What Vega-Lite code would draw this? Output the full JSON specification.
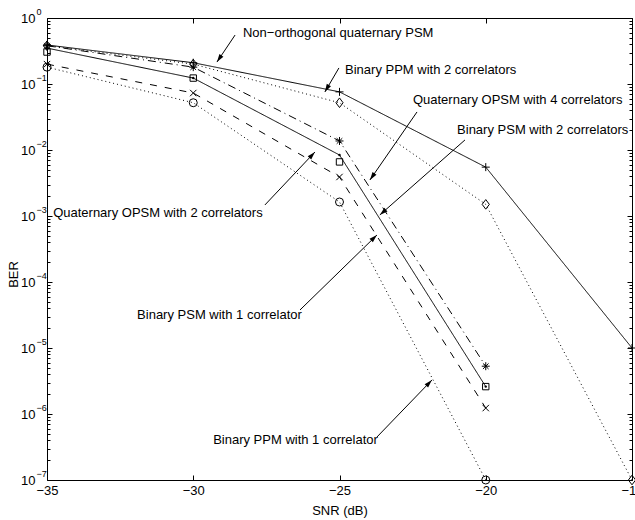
{
  "$schema": "https://vega.github.io/schema/vega-lite/v6.json",
  "width": 585,
  "height": 462,
  "autosize": {"type": "none"},
  "padding": {"left": 47, "top": 18, "right": 3, "bottom": 40},
  "background": "white",
  "config": {
    "view": {"stroke": "black", "strokeWidth": 1},
    "font": "Liberation Sans",
    "axis": {
      "labelFont": "Liberation Sans", "titleFont": "Liberation Sans",
      "labelFontSize": 13, "titleFontSize": 13,
      "labelColor": "black", "titleColor": "black", "tickColor": "black",
      "tickWidth": 1, "domain": false, "grid": false,
      "titleFontWeight": "normal", "labelFlush": false, "labelOverlap": false, "labelBound": false
    },
    "text": {"font": "Liberation Sans", "fontSize": 13}
  },
  "datasets": {
    "curves": [
      {"series": "Non-orthogonal quaternary PSM", "snr": -35, "ber": 0.39},
      {"series": "Non-orthogonal quaternary PSM", "snr": -30, "ber": 0.21},
      {"series": "Non-orthogonal quaternary PSM", "snr": -25, "ber": 0.076},
      {"series": "Non-orthogonal quaternary PSM", "snr": -20, "ber": 0.0055},
      {"series": "Non-orthogonal quaternary PSM", "snr": -15, "ber": 0.00001},
      {"series": "Binary PPM with 2 correlators", "snr": -35, "ber": 0.38},
      {"series": "Binary PPM with 2 correlators", "snr": -30, "ber": 0.2},
      {"series": "Binary PPM with 2 correlators", "snr": -25, "ber": 0.052},
      {"series": "Binary PPM with 2 correlators", "snr": -20, "ber": 0.0015},
      {"series": "Binary PPM with 2 correlators", "snr": -15, "ber": 1e-7},
      {"series": "Quaternary OPSM with 4 correlators", "snr": -35, "ber": 0.38},
      {"series": "Quaternary OPSM with 4 correlators", "snr": -30, "ber": 0.18},
      {"series": "Quaternary OPSM with 4 correlators", "snr": -25, "ber": 0.0137},
      {"series": "Quaternary OPSM with 4 correlators", "snr": -20, "ber": 5.3e-6},
      {"series": "Binary PSM with 2 correlators", "snr": -35, "ber": 0.35},
      {"series": "Binary PSM with 2 correlators", "snr": -30, "ber": 0.123},
      {"series": "Binary PSM with 2 correlators", "snr": -25, "ber": 0.0084},
      {"series": "Binary PSM with 2 correlators", "snr": -20, "ber": 2.6e-6},
      {"series": "Quaternary OPSM with 2 correlators", "snr": -35, "ber": 0.305},
      {"series": "Quaternary OPSM with 2 correlators", "snr": -30, "ber": 0.123},
      {"series": "Quaternary OPSM with 2 correlators", "snr": -25, "ber": 0.0066},
      {"series": "Quaternary OPSM with 2 correlators", "snr": -20, "ber": 2.6e-6},
      {"series": "Binary PSM with 1 correlator", "snr": -35, "ber": 0.2},
      {"series": "Binary PSM with 1 correlator", "snr": -30, "ber": 0.073},
      {"series": "Binary PSM with 1 correlator", "snr": -25, "ber": 0.0039},
      {"series": "Binary PSM with 1 correlator", "snr": -20, "ber": 1.23e-6},
      {"series": "Binary PPM with 1 correlator", "snr": -35, "ber": 0.18},
      {"series": "Binary PPM with 1 correlator", "snr": -30, "ber": 0.052},
      {"series": "Binary PPM with 1 correlator", "snr": -25, "ber": 0.00163},
      {"series": "Binary PPM with 1 correlator", "snr": -20, "ber": 1e-7}
    ],
    "notes": [
      {"label": "Non−orthogonal quaternary PSM", "tx": -28.3, "ty": 0.593, "ax": -28.57, "ay": 0.552, "hx": -29.19, "hy": 0.215, "angle": 214},
      {"label": "Binary PPM with 2 correlators", "tx": -24.81, "ty": 0.163, "ax": -25.02, "ay": 0.175, "hx": -25.5, "hy": 0.0757, "angle": 210},
      {"label": "Quaternary OPSM with 4 correlators", "tx": -22.49, "ty": 0.0572, "ax": -22.35, "ay": 0.0377, "hx": -23.96, "hy": 0.00351, "angle": 215},
      {"label": "Binary PSM with 2 correlators", "tx": -20.98, "ty": 0.0201, "ax": -20.71, "ay": 0.0142, "hx": -23.62, "hy": 0.00104, "angle": 229},
      {"label": "Quaternary OPSM with 2 correlators", "tx": -34.79, "ty": 0.00111, "ax": -27.55, "ay": 0.00147, "hx": -25.84, "hy": 0.00933, "angle": 43},
      {"label": "Binary PSM with 1 correlator", "tx": -31.92, "ty": 0.0000316, "ax": -26.35, "ay": 0.0000377, "hx": -23.72, "hy": 0.000515, "angle": 46},
      {"label": "Binary PPM with 1 correlator", "tx": -29.32, "ty": 4.04e-7, "ax": -23.72, "ay": 4.48e-7, "hx": -21.84, "hy": 3.27e-6, "angle": 44}
    ]
  },
  "resolve": {"axis": {"x": "independent", "y": "independent"}},
  "layer": [
    {
      "data": {"name": "curves"},
      "transform": [{"filter": "datum.series !== 'Quaternary OPSM with 2 correlators'"}],
      "mark": {"type": "line", "color": "black", "strokeWidth": 1},
      "encoding": {
        "x": {"field": "snr", "type": "quantitative",
              "scale": {"domain": [-35, -15], "nice": false, "zero": false},
              "axis": {"orient": "bottom", "values": [-35, -30, -25, -20, -15], "tickSize": -5, "labelPadding": 9,
                       "title": "SNR (dB)", "titleY": 24, "titleBaseline": "top"}},
        "y": {"field": "ber", "type": "quantitative",
              "scale": {"type": "log", "domain": [1e-7, 1], "nice": false},
              "axis": {"orient": "left", "values": [1e-7, 1e-6, 1e-5, 1e-4, 1e-3, 1e-2, 1e-1, 1],
                       "tickSize": -5, "labelPadding": 17, "labelExpr": "'10'",
                       "title": "BER", "titleX": -34, "titleY": 256, "titleAlign": "center", "titleBaseline": "middle", "titleAngle": 270}},
        "strokeDash": {"field": "series", "type": "nominal", "legend": null,
                       "scale": {"domain": ["Non-orthogonal quaternary PSM", "Binary PPM with 2 correlators", "Quaternary OPSM with 4 correlators", "Binary PSM with 2 correlators", "Binary PSM with 1 correlator", "Binary PPM with 1 correlator"],
                                 "range": [[1, 0], [1, 3], [8, 4, 1, 4], [1, 0], [7, 8], [1, 3]]}}
      }
    },
    {
      "data": {"name": "curves"},
      "transform": [{"filter": "datum.series !== 'Binary PSM with 2 correlators'"}],
      "mark": {"type": "point", "filled": false, "color": "black", "strokeWidth": 1, "size": 64, "opacity": 1},
      "encoding": {
        "x": {"field": "snr", "type": "quantitative",
              "scale": {"domain": [-35, -15], "nice": false, "zero": false},
              "axis": {"orient": "top", "values": [-35, -30, -25, -20, -15], "tickSize": -5, "labels": false, "title": null}},
        "y": {"field": "ber", "type": "quantitative",
              "scale": {"type": "log", "domain": [1e-7, 1], "nice": false},
              "axis": {"orient": "left", "values": [1e-7, 1e-6, 1e-5, 1e-4, 1e-3, 1e-2, 1e-1, 1],
                       "ticks": false, "tickSize": 0, "labelPadding": 11, "labelAlign": "left", "labelOffset": -7, "labelFontSize": 9,
                       "labelExpr": "format(round(log(datum.value)/LN10), 'd')", "title": null}},
        "shape": {"field": "series", "type": "nominal", "legend": null,
                  "scale": {"domain": ["Non-orthogonal quaternary PSM", "Binary PPM with 2 correlators", "Quaternary OPSM with 4 correlators", "Quaternary OPSM with 2 correlators", "Binary PSM with 1 correlator", "Binary PPM with 1 correlator"],
                            "range": ["M-1,0L1,0M0,-1L0,1", "M0,-1.2L0.9,0L0,1.2L-0.9,0Z", "M-1,0L1,0M0,-1L0,1M-0.7,-0.7L0.7,0.7M-0.7,0.7L0.7,-0.7", "M-0.8,-0.8L0.8,-0.8L0.8,0.8L-0.8,0.8Z", "M-0.8,-0.8L0.8,0.8M-0.8,0.8L0.8,-0.8", "circle"]}}
      }
    },
    {
      "data": {"name": "curves"},
      "transform": [{"filter": "datum.series === 'Binary PSM with 2 correlators'"}],
      "mark": {"type": "point", "filled": true, "color": "black", "size": 6, "shape": "circle", "opacity": 1},
      "encoding": {
        "x": {"field": "snr", "type": "quantitative", "scale": {"domain": [-35, -15], "nice": false, "zero": false}, "axis": null},
        "y": {"field": "ber", "type": "quantitative",
              "scale": {"type": "log", "domain": [1e-7, 1], "nice": false},
              "axis": {"orient": "left", "tickSize": -3, "labels": false, "title": null,
                       "values": [2e-7, 3e-7, 4e-7, 5e-7, 6e-7, 7e-7, 8e-7, 9e-7, 2e-6, 3e-6, 4e-6, 5e-6, 6e-6, 7e-6, 8e-6, 9e-6, 2e-5, 3e-5, 4e-5, 5e-5, 6e-5, 7e-5, 8e-5, 9e-5, 2e-4, 3e-4, 4e-4, 5e-4, 6e-4, 7e-4, 8e-4, 9e-4, 2e-3, 3e-3, 4e-3, 5e-3, 6e-3, 7e-3, 8e-3, 9e-3, 2e-2, 3e-2, 4e-2, 5e-2, 6e-2, 7e-2, 8e-2, 9e-2, 0.2, 0.3, 0.4, 0.5, 0.6, 0.7, 0.8, 0.9]}}
      }
    },
    {
      "data": {"name": "notes"},
      "mark": {"type": "rule", "color": "black", "strokeWidth": 1},
      "encoding": {
        "x": {"field": "ax", "type": "quantitative", "scale": {"domain": [-35, -15], "nice": false, "zero": false}, "axis": null},
        "y": {"field": "ay", "type": "quantitative",
              "scale": {"type": "log", "domain": [1e-7, 1], "nice": false},
              "axis": {"orient": "right", "values": [1e-7, 1e-6, 1e-5, 1e-4, 1e-3, 1e-2, 1e-1, 1], "tickSize": -5, "labels": false, "title": null}},
        "x2": {"field": "hx"},
        "y2": {"field": "hy"}
      }
    },
    {
      "data": {"name": "notes"},
      "mark": {"type": "point", "filled": true, "color": "black", "size": 256, "shape": "M0,0L-0.3,1L0.3,1Z", "opacity": 1},
      "encoding": {
        "x": {"field": "hx", "type": "quantitative", "scale": {"domain": [-35, -15], "nice": false, "zero": false}, "axis": null},
        "y": {"field": "hy", "type": "quantitative",
              "scale": {"type": "log", "domain": [1e-7, 1], "nice": false},
              "axis": {"orient": "right", "tickSize": -3, "labels": false, "title": null,
                       "values": [2e-7, 3e-7, 4e-7, 5e-7, 6e-7, 7e-7, 8e-7, 9e-7, 2e-6, 3e-6, 4e-6, 5e-6, 6e-6, 7e-6, 8e-6, 9e-6, 2e-5, 3e-5, 4e-5, 5e-5, 6e-5, 7e-5, 8e-5, 9e-5, 2e-4, 3e-4, 4e-4, 5e-4, 6e-4, 7e-4, 8e-4, 9e-4, 2e-3, 3e-3, 4e-3, 5e-3, 6e-3, 7e-3, 8e-3, 9e-3, 2e-2, 3e-2, 4e-2, 5e-2, 6e-2, 7e-2, 8e-2, 9e-2, 0.2, 0.3, 0.4, 0.5, 0.6, 0.7, 0.8, 0.9]}},
        "angle": {"field": "angle", "type": "quantitative", "scale": null}
      }
    },
    {
      "data": {"name": "notes"},
      "mark": {"type": "text", "align": "left", "baseline": "middle", "color": "black", "fontSize": 13},
      "encoding": {
        "x": {"field": "tx", "type": "quantitative", "scale": {"domain": [-35, -15], "nice": false, "zero": false}, "axis": null},
        "y": {"field": "ty", "type": "quantitative", "scale": {"type": "log", "domain": [1e-7, 1], "nice": false}, "axis": null},
        "text": {"field": "label"}
      }
    }
  ]
}
